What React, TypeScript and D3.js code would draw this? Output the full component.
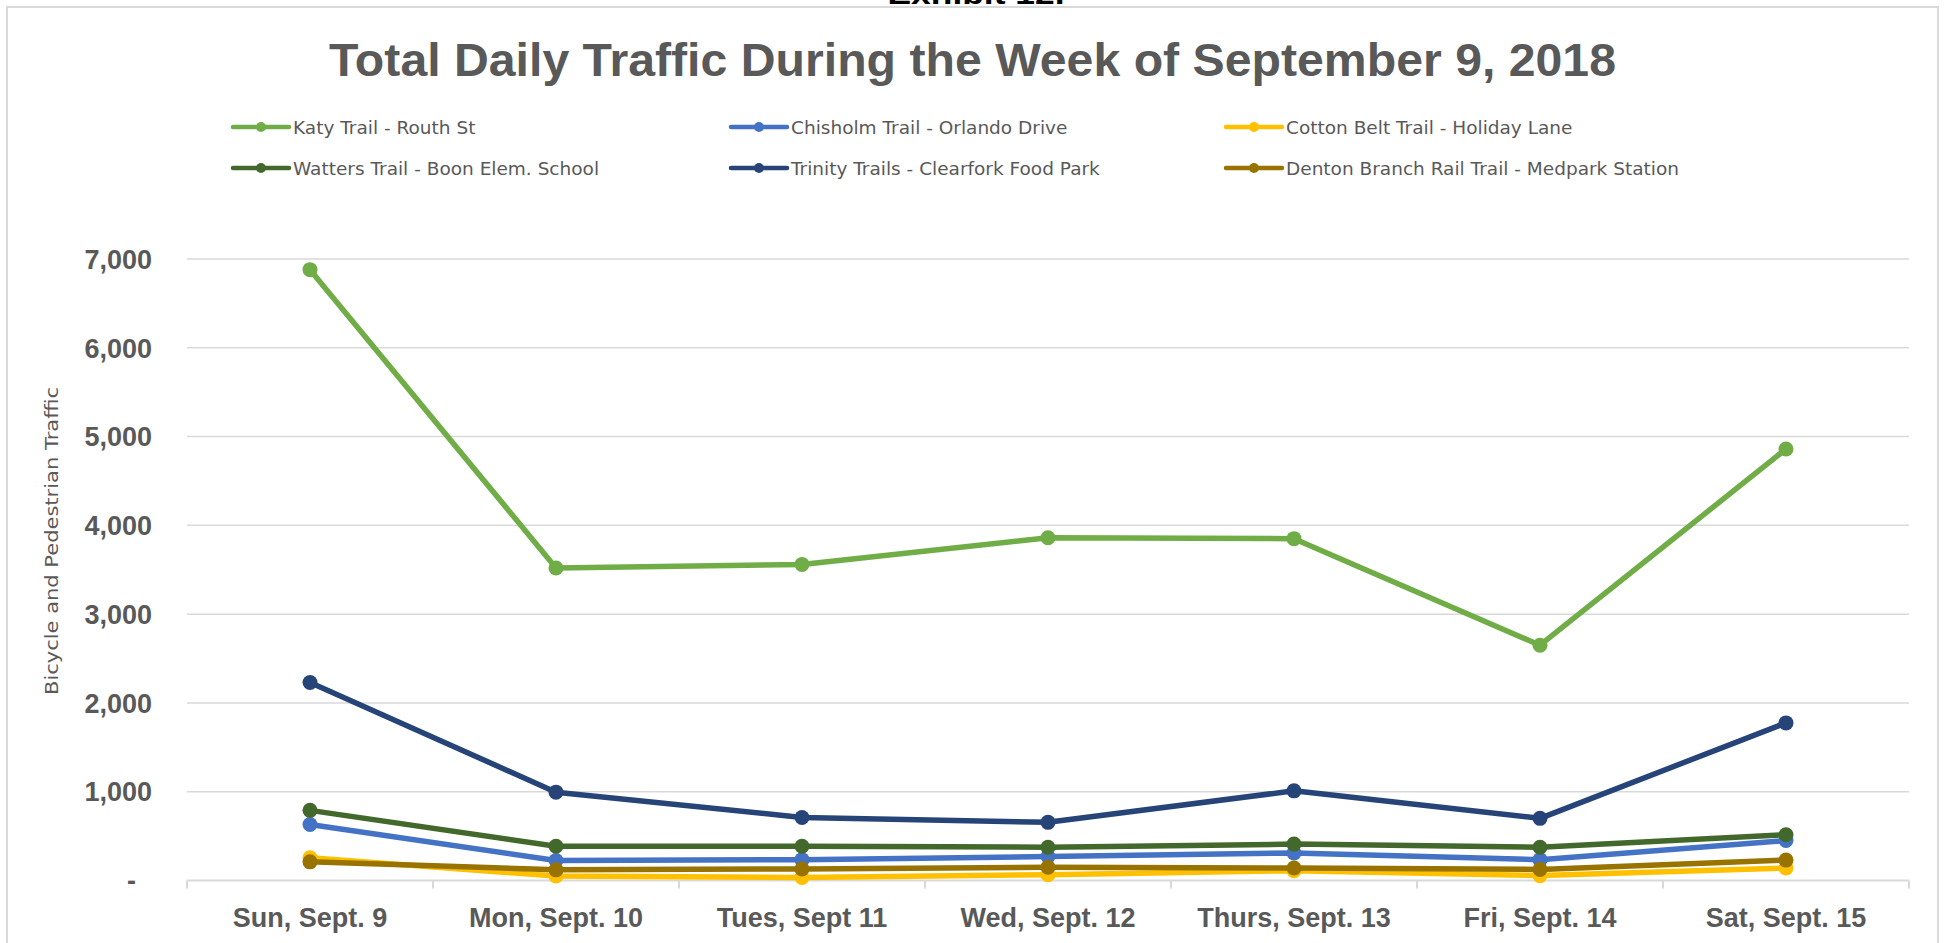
import React from "react";
import * as d3 from "d3";

const categories = [
  "Sun, Sept. 9",
  "Mon, Sept. 10",
  "Tues, Sept 11",
  "Wed, Sept. 12",
  "Thurs, Sept. 13",
  "Fri, Sept. 14",
  "Sat, Sept. 15",
];

const seriesNames = [
  "Katy Trail - Routh St",
  "Chisholm Trail - Orlando Drive",
  "Cotton Belt Trail - Holiday Lane",
  "Watters Trail - Boon Elem. School",
  "Trinity Trails - Clearfork Food Park",
  "Denton Branch Rail Trail - Medpark Station",
];

const katy = [6880, 3520, 3560, 3860, 3850, 2650, 4860];
const chisholm = [630, 225, 235, 270, 310, 235, 450];
const cottonBelt = [255, 50, 35, 65, 110, 55, 140];
const watters = [790, 385, 385, 375, 410, 375, 515];
const trinity = [2230, 995, 710, 655, 1010, 700, 1775];
const denton = [210, 120, 130, 150, 140, 125, 230];

const seriesValues = [katy, chisholm, cottonBelt, watters, trinity, denton];
const seriesColors = ["#70AD47", "#4472C4", "#FFC000", "#43682B", "#264478", "#997300"];

const yTicks = [0, 1000, 2000, 3000, 4000, 5000, 6000, 7000];

const W = 1946;
const H = 943;
const TEXT = "#595959";
const GRID = "#d9d9d9";

export default function App() {
  const x = d3.scaleBand<string>().domain(categories).range([187, 1909]).padding(0);
  const cx = (c: string) => (x(c) as number) + x.bandwidth() / 2;
  const y = d3.scaleLinear().domain([0, 7000]).range([880.5, 259]);
  const fmt = d3.format(",");

  const line = d3
    .line<number>()
    .x((_, i) => cx(categories[i]))
    .y((v) => y(v));

  const legendCols = [233, 731, 1226];
  const legendRows = [127, 168];

  return (
    <svg
      width={W}
      height={H}
      style={{ position: "absolute", left: 0, top: 0, background: "#fff" }}
    >
      <rect x={0} y={0} width={W} height={H} fill="#fff" />
      {/* Partially visible exhibit label (cut off at the top, as in the source) */}
      <text
        x={976}
        y={3.5}
        textAnchor="middle"
        fontFamily="Liberation Sans, Arial, sans-serif"
        fontWeight="bold"
        fontSize={30}
        fill="#000"
        textLength={177}
        lengthAdjust="spacingAndGlyphs"
      >
        Exhibit 12.
      </text>
      {/* Chart frame */}
      <rect x={7} y={7} width={1931} height={H + 20} fill="#fff" stroke={GRID} strokeWidth={2} />

      {/* Title */}
      <text
        x={972.5}
        y={76}
        textAnchor="middle"
        fontFamily="Liberation Sans, Arial, sans-serif"
        fontWeight="bold"
        fontSize={46}
        fill={TEXT}
        textLength={1287}
        lengthAdjust="spacingAndGlyphs"
      >
        Total Daily Traffic During the Week of September 9, 2018
      </text>

      {/* Legend */}
      {seriesNames.map((name, i) => {
        const lx = legendCols[i % 3];
        const ly = legendRows[Math.floor(i / 3)];
        return (
          <g key={name}>
            <line
              x1={lx}
              x2={lx + 56}
              y1={ly}
              y2={ly}
              stroke={seriesColors[i]}
              strokeWidth={4.5}
              strokeLinecap="round"
            />
            <circle cx={lx + 28} cy={ly} r={5} fill={seriesColors[i]} />
            <text
              x={lx + 60}
              y={ly + 6.5}
              fontFamily="DejaVu Sans, sans-serif"
              fontSize={18.5}
              fill={TEXT}
            >
              {name}
            </text>
          </g>
        );
      })}

      {/* Gridlines */}
      {yTicks.map((t) => (
        <line
          key={"g" + t}
          x1={187}
          x2={1909}
          y1={y(t)}
          y2={y(t)}
          stroke={GRID}
          strokeWidth={t === 0 ? 2 : 1.5}
        />
      ))}
      {/* X tick marks */}
      {d3.range(categories.length + 1).map((i) => {
        const tx = i < categories.length ? (x(categories[i]) as number) : 1909;
        return <line key={"t" + i} x1={tx} x2={tx} y1={y(0)} y2={y(0) + 8} stroke={GRID} strokeWidth={2} />;
      })}

      {/* Y tick labels */}
      {yTicks.map((t) => (
        <text
          key={"yl" + t}
          x={t === 0 ? 136 : 152}
          y={y(t)}
          dy="0.36em"
          textAnchor="end"
          fontFamily="Liberation Sans, Arial, sans-serif"
          fontWeight="bold"
          fontSize={27}
          fill={TEXT}
        >
          {t === 0 ? "-" : fmt(t)}
        </text>
      ))}

      {/* Y axis title */}
      <text
        transform={`translate(58, 541) rotate(-90)`}
        textAnchor="middle"
        fontFamily="DejaVu Sans, sans-serif"
        fontSize={18}
        fill={TEXT}
        textLength={308}
        lengthAdjust="spacingAndGlyphs"
      >
        Bicycle and Pedestrian Traffic
      </text>

      {/* X labels */}
      {categories.map((c) => (
        <text
          key={"xl" + c}
          x={cx(c)}
          y={927}
          textAnchor="middle"
          fontFamily="Liberation Sans, Arial, sans-serif"
          fontWeight="bold"
          fontSize={27}
          fill={TEXT}
        >
          {c}
        </text>
      ))}

      {/* Series */}
      {seriesValues.map((vals, si) => (
        <g key={"s" + si}>
          <path
            d={line(vals) || ""}
            fill="none"
            stroke={seriesColors[si]}
            strokeWidth={5.5}
            strokeLinejoin="round"
            strokeLinecap="round"
          />
          {vals.map((v, i) => (
            <circle key={i} cx={cx(categories[i])} cy={y(v)} r={7.5} fill={seriesColors[si]} />
          ))}
        </g>
      ))}
    </svg>
  );
}
